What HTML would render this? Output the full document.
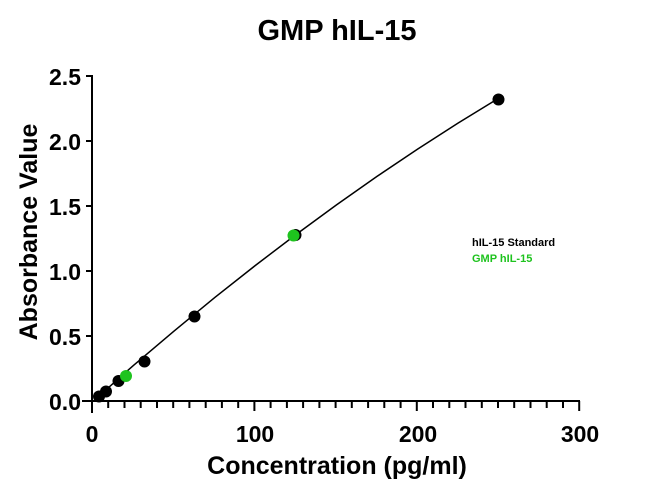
<!DOCTYPE html>
<html><head><style>body{margin:0;background:#fff}svg{display:block}text{font-family:"Liberation Sans",Arial,sans-serif;font-weight:bold}</style></head>
<body>
<svg width="650" height="490" xmlns="http://www.w3.org/2000/svg">
<text x="337" y="40" font-size="29" text-anchor="middle">GMP hIL-15</text>
<g stroke="#000" stroke-width="2" fill="none">
<line x1="92" y1="75" x2="92" y2="413"/>
<line x1="82" y1="401" x2="580" y2="401"/>
<line x1="86" y1="76" x2="92" y2="76"/><line x1="86" y1="141" x2="92" y2="141"/><line x1="86" y1="206" x2="92" y2="206"/><line x1="86" y1="271" x2="92" y2="271"/><line x1="86" y1="336" x2="92" y2="336"/>
</g>
<g font-size="23" text-anchor="end">
<text x="81" y="85">2.5</text><text x="81" y="150">2.0</text><text x="81" y="215">1.5</text><text x="81" y="280">1.0</text><text x="81" y="345">0.5</text><text x="81" y="410">0.0</text>
</g>
<g font-size="23" text-anchor="middle">
<text x="92" y="442">0</text><text x="255" y="442">100</text><text x="418" y="442">200</text><text x="580" y="442">300</text>
</g>
<text x="337" y="474" font-size="25" text-anchor="middle">Concentration (pg/ml)</text>
<text transform="translate(37,232) rotate(-90)" font-size="25" text-anchor="middle">Absorbance Value</text>
<path d="M99 396 L133.6 365.3 L174.2 330.9 L214.7 297.6 L255.3 265.5 L295.9 234.6 L336.5 204.9 L377 176.4 L417.6 149.1 L458.2 123 L498.8 98.1" stroke="#000" stroke-width="1.5" fill="none"/>
<g fill="#000">
<circle cx="99" cy="396.5" r="6"/><circle cx="106" cy="391.5" r="6"/><circle cx="118.5" cy="381" r="6"/><circle cx="144.5" cy="361.5" r="6"/><circle cx="194.5" cy="316.5" r="6"/><circle cx="295.5" cy="235" r="6"/><circle cx="498.5" cy="99.5" r="6"/>
</g>
<g fill="#1ec31e">
<circle cx="126" cy="376" r="6"/><circle cx="293.5" cy="235.5" r="6"/>
</g>
<text x="472" y="246" font-size="11">hIL-15 Standard</text>
<text x="472" y="262" font-size="11" fill="#1ec31e">GMP hIL-15</text>
<g stroke="#000" stroke-width="2">
<line x1="92" y1="401" x2="92" y2="408"/><line x1="108.2" y1="401" x2="108.2" y2="408"/><line x1="124.5" y1="401" x2="124.5" y2="408"/><line x1="140.7" y1="401" x2="140.7" y2="408"/><line x1="157" y1="401" x2="157" y2="408"/><line x1="173.2" y1="401" x2="173.2" y2="408"/><line x1="189.4" y1="401" x2="189.4" y2="408"/><line x1="205.7" y1="401" x2="205.7" y2="408"/><line x1="221.9" y1="401" x2="221.9" y2="408"/><line x1="238.2" y1="401" x2="238.2" y2="408"/><line x1="254.4" y1="401" x2="254.4" y2="411"/><line x1="270.6" y1="401" x2="270.6" y2="408"/><line x1="286.9" y1="401" x2="286.9" y2="408"/><line x1="303.1" y1="401" x2="303.1" y2="408"/><line x1="319.4" y1="401" x2="319.4" y2="408"/><line x1="335.6" y1="401" x2="335.6" y2="408"/><line x1="351.8" y1="401" x2="351.8" y2="408"/><line x1="368.1" y1="401" x2="368.1" y2="408"/><line x1="384.3" y1="401" x2="384.3" y2="408"/><line x1="400.6" y1="401" x2="400.6" y2="408"/><line x1="416.8" y1="401" x2="416.8" y2="411"/><line x1="433" y1="401" x2="433" y2="408"/><line x1="449.3" y1="401" x2="449.3" y2="408"/><line x1="465.5" y1="401" x2="465.5" y2="408"/><line x1="481.8" y1="401" x2="481.8" y2="408"/><line x1="498" y1="401" x2="498" y2="408"/><line x1="514.2" y1="401" x2="514.2" y2="408"/><line x1="530.5" y1="401" x2="530.5" y2="408"/><line x1="546.7" y1="401" x2="546.7" y2="408"/><line x1="563" y1="401" x2="563" y2="408"/><line x1="579.2" y1="401" x2="579.2" y2="411"/>
</g>
</svg>
</body></html>
